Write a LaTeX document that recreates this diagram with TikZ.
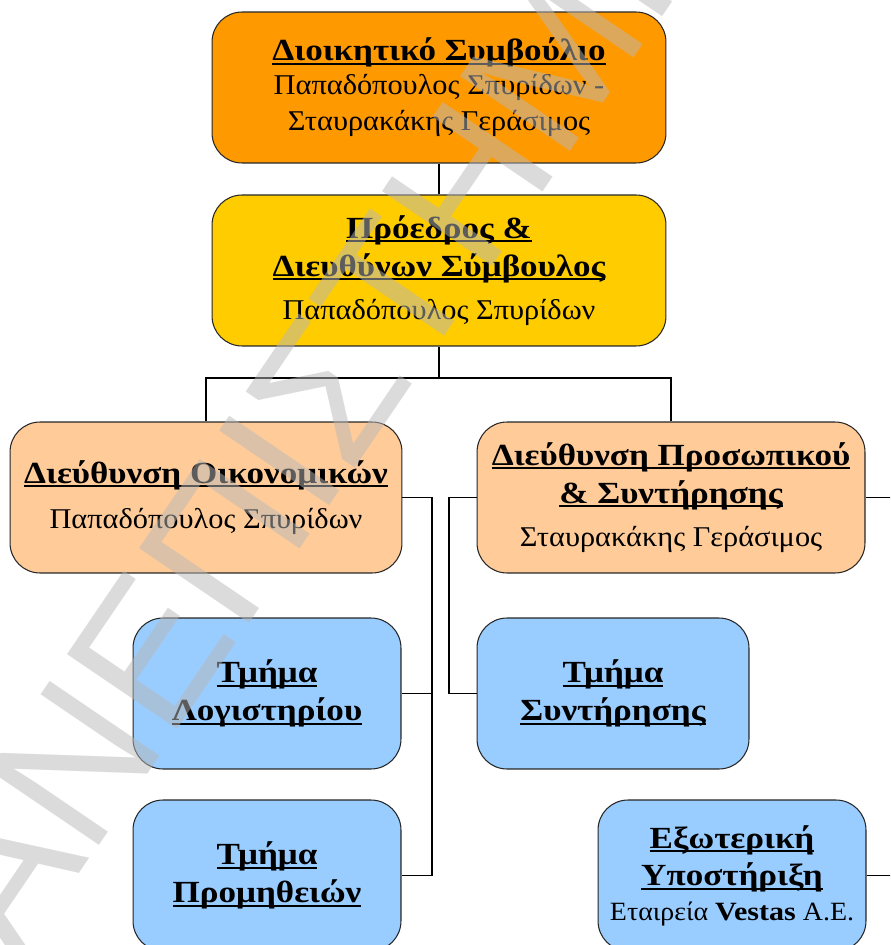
\documentclass[tikz,border=0pt]{standalone}
\usepackage{fontspec}
\setmainfont{Liberation Serif}[FakeStretch=1.06,BoldFeatures={FakeStretch=1.14}]
\newfontfamily\wmfont{Liberation Sans}
\usepackage{xcolor}
\definecolor{boardfill}{HTML}{FF9900}
\definecolor{ceofill}{HTML}{FFCC00}
\definecolor{dirfill}{HTML}{FFCC99}
\definecolor{deptfill}{HTML}{99CCFF}
\newsavebox\ulbox
\newcommand\ulbf[1]{\sbox\ulbox{\fontsize{17.5}{21.5}\bfseries #1}\rlap{\rule[-0.14em]{\wd\ulbox}{0.07em}}\usebox\ulbox}

\begin{document}
\begin{tikzpicture}[x=0.02cm, y=-0.02cm,
  unit/.style={draw=black!85, line width=0.6pt, rounded corners=0.6cm,
    minimum height=3.02cm, align=center, inner sep=2pt,
    font=\fontsize{16.3}{21.5}\selectfont},
  conn/.style={line width=0.85pt}
]
\useasboundingbox (0,0) rectangle (890,945);
\clip (0,0) rectangle (890,945);
\node[unit, fill=boardfill, minimum width=9.08cm] (board) at (439,87.5)
  {\ulbf{Διοικητικό Συμβούλιο}\\[-2pt] Παπαδόπουλος Σπυρίδων -\\[-1pt] Σταυρακάκης Γεράσιμος};
\node[unit, fill=ceofill, minimum width=9.08cm] (ceo) at (439,270.5)
  {\ulbf{Πρόεδρος \&}\\ \ulbf{Διευθύνων Σύμβουλος}\\[3pt] Παπαδόπουλος Σπυρίδων};
\node[unit, fill=dirfill, minimum width=7.84cm] (fin) at (206,497.5)
  {\ulbf{Διεύθυνση Οικονομικών}\\[4pt] Παπαδόπουλος Σπυρίδων};
\node[unit, fill=dirfill, minimum width=7.76cm] (hr) at (671,497.5)
  {\ulbf{Διεύθυνση Προσωπικού}\\ \ulbf{\& Συντήρησης}\\[3pt] Σταυρακάκης Γεράσιμος};
\node[unit, fill=deptfill, minimum width=5.36cm] (acc) at (267,693.5)
  {\ulbf{Τμήμα}\\ \ulbf{Λογιστηρίου}};
\node[unit, fill=deptfill, minimum width=5.36cm] (sup) at (267,875.5)
  {\ulbf{Τμήμα}\\ \ulbf{Προμηθειών}};
\node[unit, fill=deptfill, minimum width=5.44cm] (mnt) at (613,693.5)
  {\ulbf{Τμήμα}\\ \ulbf{Συντήρησης}};
\node[unit, fill=deptfill, minimum width=5.36cm] (ext) at (732,875.5)
  {\ulbf{Εξωτερική}\\ \ulbf{Υποστήριξη}\\[-2pt]
   {\fontsize{15}{18}\selectfont Εταιρεία \textbf{Vestas} Α.Ε.}};

\coordinate (split) at (439,378);
\coordinate (finbus) at (432,497.5);
\coordinate (hrbus) at (449,497.5);
\coordinate (hrout) at (900,497.5);
\coordinate (extout) at (900,875.5);
\draw[conn] (board) -- (ceo);
\draw[conn] (ceo) -- (split) -| (fin);
\draw[conn] (split) -| (hr);
\draw[conn] (fin) -- (finbus) |- (acc);
\draw[conn] (finbus) |- (sup);
\draw[conn] (hr) -- (hrbus) |- (mnt);
\draw[conn] (hr) -- (hrout);
\draw[conn] (ext) -- (extout);

\node[font=\wmfont\fontsize{110}{110}\selectfont, text=black!28, text opacity=0.5,
  rotate=55.8, anchor=west, inner sep=0pt] (stamp) at (-116,1043) {ΠΑΝΕΠΙΣΤΗΜΙΟ};
\end{tikzpicture}
\end{document}
